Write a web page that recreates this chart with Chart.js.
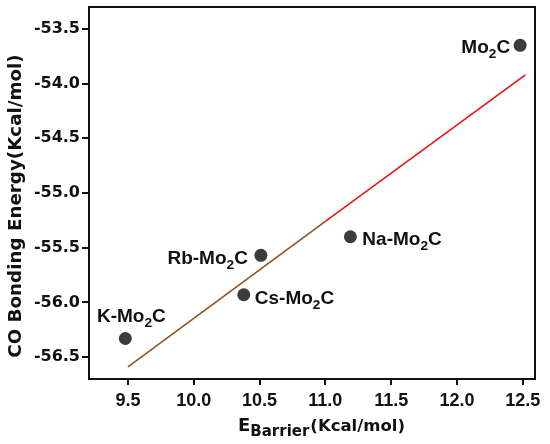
<!DOCTYPE html>
<html>
<head>
<meta charset="utf-8">
<script src="https://cdn.jsdelivr.net/npm/chart.js@4.4.1/dist/chart.umd.min.js"></script>
<style>
	html, body { margin: 0; padding: 0; background: #fff; }
	#wrap { width: 550px; height: 444px; }
</style>
</head>
<body>
<div id="wrap"><canvas id="chart-co-bonding"></canvas></div>
<script>
// values
var sampleNames = ["Mo2C", "Na-Mo2C", "Rb-Mo2C", "Cs-Mo2C", "K-Mo2C"];
var barrierEnergy = [12.48, 11.19, 10.51, 10.38, 9.48];
var bondingEnergy = [-53.65, -55.40, -55.57, -55.93, -56.33];

// the fitted line, as drawn
var fitX = [9.50, 11.00, 12.52];
var fitY = [-56.59, -55.26, -53.92];

var xTicks = [9.5, 10.0, 10.5, 11.0, 11.5, 12.0, 12.5];
var yTicks = [-56.5, -56.0, -55.5, -55.0, -54.5, -54.0, -53.5];

// where each label sits next to its dot
var labelPlace = [
	{ align: "right", dx: -10, dy: 1 },
	{ align: "left", dx: 12, dy: 1 },
	{ align: "right", dx: -13, dy: 2 },
	{ align: "left", dx: 11, dy: 2 },
	{ align: "center", dx: 6, dy: -23 }
];

var SANS = "'Liberation Sans', Arial, sans-serif";
var WIDE = "'DejaVu Sans', sans-serif";

// draws text, turning digits into subscripts
function drawSubText(ctx, text, x, y, size, align)
{
	var subSize = size * 0.72;
	var parts = [];
	var total = 0;
	for (var i = 0; i < text.length; i++)
	{
		var ch = text[i];
		var isSub = /[0-9]/.test(ch);
		ctx.font = "bold " + (isSub ? subSize : size) + "px " + SANS;
		var w = ctx.measureText(ch).width;
		parts.push({ ch: ch, sub: isSub, w: w });
		total += w;
	}
	var cx = x;
	if (align == "right") cx = x - total;
	if (align == "center") cx = x - total / 2;
	ctx.textAlign = "left";
	ctx.textBaseline = "alphabetic";
	parts.forEach(function(p)
	{
		ctx.font = "bold " + (p.sub ? subSize : size) + "px " + SANS;
		ctx.fillText(p.ch, cx, p.sub ? y + 5 : y);
		cx += p.w;
	});
}

var extrasPlugin = {
	id: "extras",
	beforeDatasetsDraw: function(chart)
	{
		var ctx = chart.ctx;
		var a = chart.chartArea;
		ctx.save();
		ctx.strokeStyle = "#111";
		ctx.lineWidth = 2;
		ctx.strokeRect(a.left, a.top, a.right - a.left, a.bottom - a.top);
		ctx.restore();
	},
	afterDraw: function(chart)
	{
		var ctx = chart.ctx;
		var xs = chart.scales.x;
		var ys = chart.scales.y;
		ctx.save();
		ctx.fillStyle = "#111";

		// point labels
		for (var i = 0; i < sampleNames.length; i++)
		{
			var px = xs.getPixelForValue(barrierEnergy[i]);
			var py = ys.getPixelForValue(bondingEnergy[i]);
			var pl = labelPlace[i];
			drawSubText(ctx, sampleNames[i], px + pl.dx, py + pl.dy + 6.8, 19, pl.align);
		}

		// x title: E with subscript Barrier
		var tx = 238, ty = 431;
		ctx.textAlign = "left";
		ctx.textBaseline = "alphabetic";
		ctx.font = "bold 18px " + WIDE;
		ctx.fillText("E", tx, ty);
		tx += ctx.measureText("E").width;
		ctx.font = "bold 15px " + WIDE;
		ctx.fillText("Barrier", tx, ty + 5);
		tx += ctx.measureText("Barrier").width + 1;
		ctx.font = "bold 16.5px " + WIDE;
		ctx.fillText("(Kcal/mol)", tx, ty);

		// y title
		ctx.translate(16, 206);
		ctx.rotate(-Math.PI / 2);
		ctx.textAlign = "center";
		ctx.textBaseline = "middle";
		ctx.font = "bold 18.3px " + WIDE;
		ctx.fillText("CO Bonding Energy(Kcal/mol)", 0, 0);
		ctx.restore();
	}
};

new Chart("chart-co-bonding", {
	type: "scatter",
	data: {
		datasets: [
			{
				type: "line",
				data: fitX.map(function(v, i) { return { x: v, y: fitY[i] }; }),
				borderWidth: 1.6,
				pointRadius: 0,
				fill: false,
				tension: 0,
				borderColor: "#e81414",
				segment: {
					borderColor: function(c) { return c.p0DataIndex == 0 ? "#8f5322" : "#e81414"; }
				},
				order: 2
			},
			{
				data: barrierEnergy.map(function(v, i) { return { x: v, y: bondingEnergy[i] }; }),
				pointRadius: 6.5,
				pointHoverRadius: 6.5,
				backgroundColor: "#3c3c3e",
				borderWidth: 0,
				order: 1
			}
		]
	},
	options: {
		responsive: true,
		maintainAspectRatio: false,
		animation: false,
		events: [],
		layout: { padding: { left: 0, top: 7, right: 15, bottom: 0 } },
		plugins: {
			legend: { display: false },
			tooltip: { enabled: false }
		},
		scales: {
			x: {
				type: "linear",
				min: 9.204,
				max: 12.593,
				afterBuildTicks: function(scale) { scale.ticks = xTicks.map(function(v) { return { value: v }; }); },
				afterFit: function(scale) { scale.height = 65; scale.paddingLeft = 0; scale.paddingRight = 0; },
				border: { display: false },
				grid: { drawOnChartArea: false, drawTicks: true, tickLength: 6, color: "#111", lineWidth: 2 },
				ticks: {
					color: "#111",
					padding: 5,
					maxRotation: 0,
					font: { family: SANS, size: 18, weight: "bold" },
					callback: function(v) { return v.toFixed(1); }
				}
			},
			y: {
				type: "linear",
				min: -56.70,
				max: -53.30,
				afterBuildTicks: function(scale) { scale.ticks = yTicks.map(function(v) { return { value: v }; }); },
				afterFit: function(scale) { scale.width = 89; scale.paddingTop = 0; scale.paddingBottom = 0; },
				border: { display: false },
				grid: { drawOnChartArea: false, drawTicks: true, tickLength: 7, color: "#111", lineWidth: 2 },
				ticks: {
					color: "#111",
					padding: 2,
					font: { family: WIDE, size: 16, weight: "bold" },
					callback: function(v) { return v.toFixed(1); }
				}
			}
		}
	},
	plugins: [extrasPlugin]
});
</script>
</body>
</html>
